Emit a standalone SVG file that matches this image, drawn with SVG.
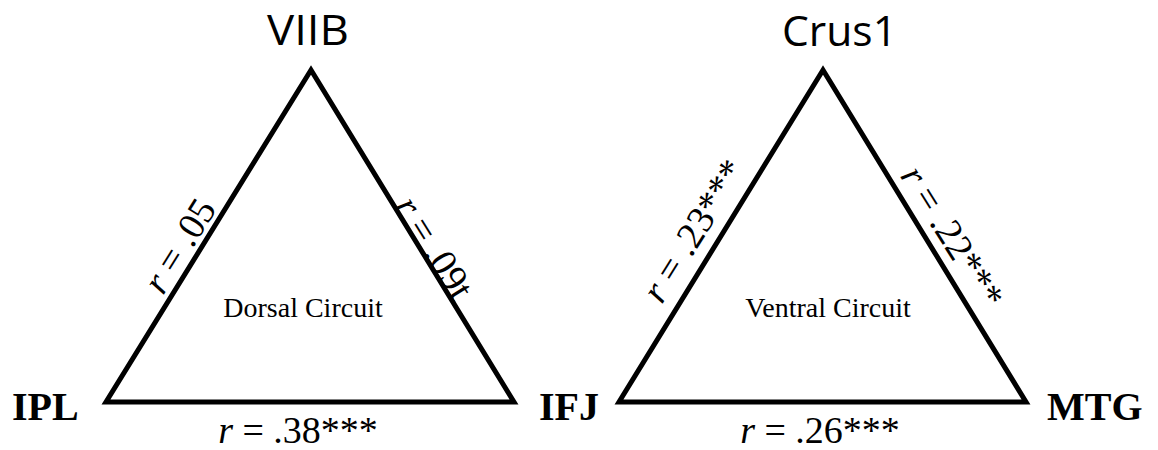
<svg xmlns="http://www.w3.org/2000/svg" width="1158" height="450" viewBox="0 0 1158 450">
<style>
.edge{fill:none;stroke:#000;stroke-width:5;stroke-linejoin:miter}
.top{font-family:"Open Sans","Liberation Sans",sans-serif;font-size:42px;fill:#000}
.corner{font-family:"Liberation Serif","Times New Roman",serif;font-size:40px;font-weight:bold;fill:#000}
.lab{font-family:"Liberation Serif","Times New Roman",serif;font-size:38px;fill:#000;text-anchor:middle}
.circ{font-family:"Liberation Serif","Times New Roman",serif;font-size:28px;fill:#000;text-anchor:middle}
.it{font-style:italic}
</style>
<rect width="1158" height="450" fill="#fff"/>
<g id="connectors">
<polygon class="edge" points="311,70 106,402 514,402"/>
<polygon class="edge" points="823,70 619,402 1026,402"/>
</g>
<g id="VIIB"><text class="top" x="267" y="45" textLength="82" lengthAdjust="spacingAndGlyphs">VIIB</text></g>
<g id="IPL"><text class="corner" x="12" y="420">IPL</text></g>
<g id="IFJ"><text class="corner" x="539" y="420">IFJ</text></g>
<g id="Crus1"><text class="top" x="782" y="46" textLength="115" lengthAdjust="spacingAndGlyphs">Crus1</text></g>
<g id="MTG"><text class="corner" x="1047" y="420">MTG</text></g>
<g id="labels">
<text class="circ" x="303" y="317">Dorsal Circuit</text>
<text class="circ" x="828" y="317">Ventral Circuit</text>
<text class="lab" x="298" y="443"><tspan class="it">r</tspan> = .38***</text>
<text class="lab" x="820" y="443"><tspan class="it">r</tspan> = .26***</text>
<text class="lab" transform="translate(180,246) rotate(-58)" x="0" y="12"><tspan class="it">r</tspan> = .05</text>
<text class="lab" transform="translate(434,248) rotate(58)" x="0" y="12"><tspan class="it">r</tspan> = .09t</text>
<text class="lab" transform="translate(694,231) rotate(-58)" x="0" y="12"><tspan class="it">r</tspan> = .23***</text>
<text class="lab" transform="translate(952,237) rotate(58)" x="0" y="12"><tspan class="it">r</tspan> = .22***</text>
</g>
</svg>
